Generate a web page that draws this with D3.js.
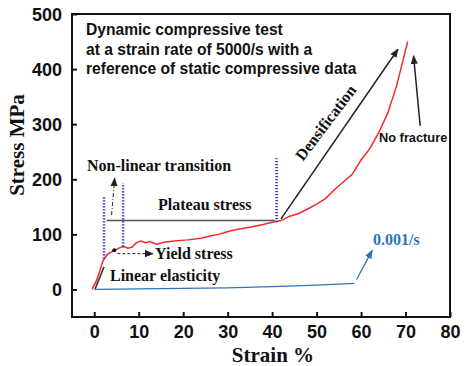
<!DOCTYPE html>
<html>
<head>
<meta charset="utf-8">
<script src="https://cdn.jsdelivr.net/npm/d3@7"></script>
<style>
body { margin: 0; background: #fff; }
svg text { font-weight: bold; }
.sans { font-family: "Liberation Sans", Arial, sans-serif; }
.serif { font-family: "Liberation Serif", "Times New Roman", serif; }
</style>
</head>
<body>
<div id="chart"></div>
<script>
// dynamic test, 5000/s  [strain %, stress MPa]
var dynamicCurve = [[-0.5,0],[0.5,16],[1.3,35],[2,53],[3,64],[4.3,70],[5.8,76],[6.6,78],[7.6,75],
  [8.5,77],[9.5,85],[10.5,88],[11.5,85],[12.5,87],[14,82],[16,86],[18,88],[21,90],[24,93],
  [26,97],[28,100],[30.5,106],[33,110],[35,113],[38,118],[40,122],[42,125],[44,133],
  [46,138],[48,146],[50,155],[52,165],[54,181],[56,195],[58,209],[60,235],[62,256],
  [64,285],[66,320],[68,370],[70.5,450]];
// static test, 0.001/s
var staticCurve = [[0,0],[10,1],[20,2],[30,3],[40,5],[50,8],[58.5,11]];

var xTicks = [0, 10, 20, 30, 40, 50, 60, 70, 80];
var yTicks = [0, 100, 200, 300, 400, 500];

// annotation guides (data coords)
var dottedGuides = [[2.2, 56, 168], [6.5, 78, 193], [41, 122, 238]]; // strain, from, to
var plateauLine = [[2.8, 125], [40.6, 125]];
var elasticLine = [[0.2, 1], [2.2, 41]];
var densArrow = [[42, 128], [68.3, 436]];
var fractureArrow = [[73.3, 297], [71.8, 424]];
var yieldArrow = [[5.2, 65], [13.2, 65]];
var transArrow = [[3.9, 135], [4.6, 202]];
var staticArrow = [[59, 18], [62.5, 71]];

var W = 465, H = 366;
var mLeft = 72, mRight = 450, mTop = 14, mBottom = 317;

var x = d3.scaleLinear().domain([-5, 80]).range([mLeft, mRight]);
var y = d3.scaleLinear().domain([-50, 500]).range([mBottom, mTop]);

var svg = d3.select("#chart").append("svg").attr("width", W).attr("height", H);

var defs = svg.append("defs");
function marker(id, color) {
  defs.append("marker").attr("id", id)
    .attr("viewBox", "0 0 10 10").attr("refX", 9).attr("refY", 5)
    .attr("markerWidth", 9).attr("markerHeight", 9)
    .attr("markerUnits", "userSpaceOnUse")
    .attr("orient", "auto")
    .append("path").attr("d", "M0,1 L10,5 L0,9 Z").attr("fill", color);
}
marker("headBlack", "#222");
marker("headBlue", "#2f74b5");

// axes
var xAxis = d3.axisBottom(x).tickValues(xTicks).tickSizeInner(-5).tickSizeOuter(0).tickPadding(8);
var yAxis = d3.axisLeft(y).tickValues(yTicks).tickSizeInner(-5).tickSizeOuter(0).tickPadding(10);

var gx = svg.append("g").attr("transform", "translate(0," + mBottom + ")").call(xAxis);
var gy = svg.append("g").attr("transform", "translate(" + mLeft + ",0)").call(yAxis);
[gx, gy].forEach(function(g){
  g.select(".domain").remove();
  g.selectAll("line").attr("stroke", "#111").attr("stroke-width", 2);
  g.selectAll("text").attr("class", "sans").attr("font-size", 18).attr("fill", "#111");
});
gy.selectAll("text").attr("dy", "0.36em");

svg.append("rect").attr("x", mLeft).attr("y", mTop)
  .attr("width", mRight - mLeft).attr("height", mBottom - mTop)
  .attr("fill", "none").attr("stroke", "#111").attr("stroke-width", 2);

var line = d3.line().x(function(d){return x(d[0]);}).y(function(d){return y(d[1]);});

// curves
svg.append("path").datum(staticCurve).attr("d", line)
  .attr("fill", "none").attr("stroke", "#2f74b5").attr("stroke-width", 1.3);
svg.append("path").datum(dynamicCurve).attr("d", line)
  .attr("fill", "none").attr("stroke", "#f52a2a").attr("stroke-width", 1.5);

// guides
svg.selectAll(".guide").data(dottedGuides).enter().append("line")
  .attr("x1", function(d){return x(d[0]);}).attr("x2", function(d){return x(d[0]);})
  .attr("y1", function(d){return y(d[1]);}).attr("y2", function(d){return y(d[2]);})
  .attr("stroke", "#2a2ad0").attr("stroke-width", 2.5).attr("stroke-dasharray", "1.3,1.7");

svg.append("path").datum(plateauLine).attr("d", line)
  .attr("stroke", "#555").attr("stroke-width", 1.5);
svg.append("path").datum(elasticLine).attr("d", line)
  .attr("stroke", "#333").attr("stroke-width", 1.5);

svg.append("path").datum(densArrow).attr("d", line)
  .attr("stroke", "#222").attr("stroke-width", 1.5).attr("marker-end", "url(#headBlack)");
svg.append("path").datum(fractureArrow).attr("d", line)
  .attr("stroke", "#222").attr("stroke-width", 1.5).attr("marker-end", "url(#headBlack)");
svg.append("path").datum(yieldArrow).attr("d", line)
  .attr("stroke", "#222").attr("stroke-width", 1).attr("stroke-dasharray", "3,2")
  .attr("marker-end", "url(#headBlack)");
svg.append("path").datum(transArrow).attr("d", line)
  .attr("stroke", "#222").attr("stroke-width", 1).attr("stroke-dasharray", "4,2,1,2")
  .attr("marker-end", "url(#headBlack)");
svg.append("path").datum(staticArrow).attr("d", line)
  .attr("stroke", "#2f74b5").attr("stroke-width", 1.3).attr("marker-end", "url(#headBlue)");

svg.append("circle").attr("cx", x(4.5)).attr("cy", y(71)).attr("r", 2).attr("fill", "#111");

// texts
var title = ["Dynamic compressive test", "at a strain rate of 5000/s with a", "reference of static compressive data"];
svg.append("g").selectAll("text").data(title).enter().append("text")
  .attr("class", "sans").attr("font-size", 15.6).attr("fill", "#111")
  .attr("x", 86).attr("y", function(d, i){return 35 + i * 19.5;})
  .text(function(d){return d;});

function label(txt, px, py, cls, size, color) {
  return svg.append("text").attr("class", cls).attr("font-size", size)
    .attr("fill", color || "#111").attr("x", px).attr("y", py).text(txt);
}
label("Non-linear transition", 87, 171, "serif", 16);
label("Plateau stress", 158, 210, "serif", 16);
label("Yield stress", 155, 259, "serif", 16);
label("Linear elasticity", 110, 281, "serif", 16);
label("No fracture", 379, 142, "sans", 12.8);
label("0.001/s", 373, 245, "serif", 16, "#2f74b5");
label("Densification", 0, 0, "serif", 16)
  .attr("text-anchor", "middle")
  .attr("transform", "translate(330,126) rotate(-53)");

label("Strain %", 273, 362, "serif", 21).attr("text-anchor", "middle");
label("Stress MPa", 0, 0, "serif", 21).attr("text-anchor", "middle")
  .attr("transform", "translate(24,145) rotate(-90)");
</script>
</body>
</html>
